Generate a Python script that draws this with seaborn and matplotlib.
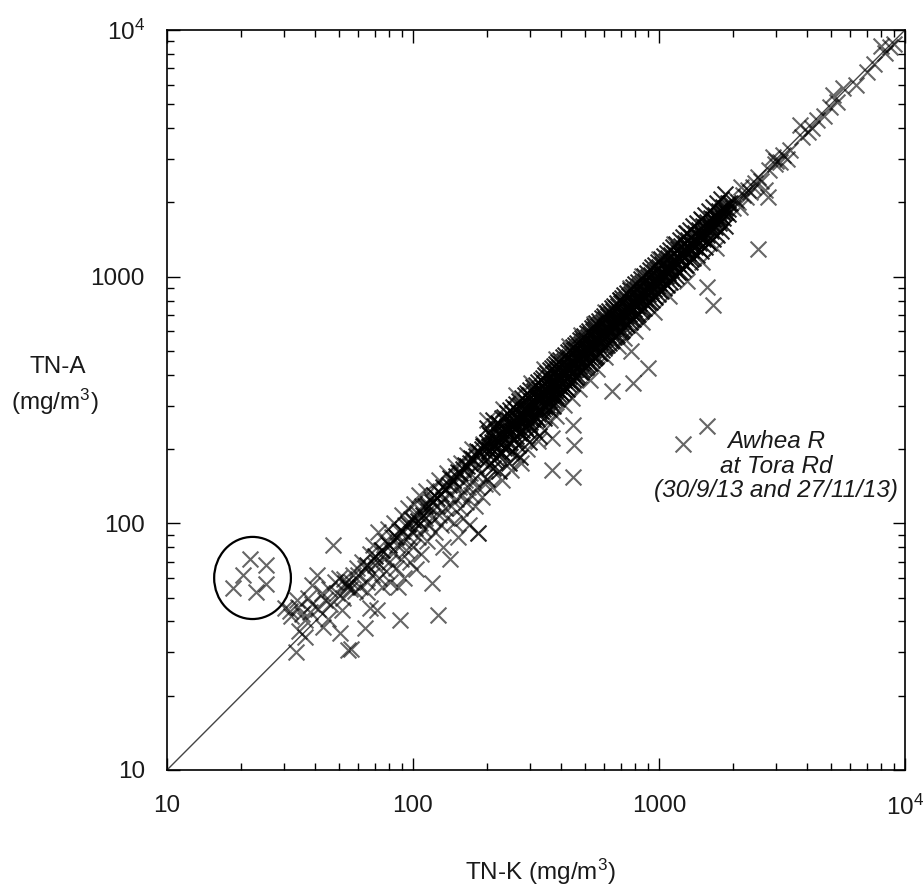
import matplotlib
matplotlib.use("Agg")
import matplotlib.pyplot as plt
import pandas as pd
import seaborn as sns
from matplotlib.patches import Ellipse
from matplotlib.ticker import FixedLocator, FixedFormatter, LogLocator, NullFormatter

# ---------------- data (TN-K, TN-A) in mg/m3 ----------------
tick_vals = [10, 100, 1000, 10000]
tick_labels = ["10", "100", "1000", r"$\mathregular{10^4}$"]

circled = [(21.7, 71.7), (25.3, 67.8), (20.4, 61.7), (25.3, 56.8), (18.5, 54.7), (23.0, 52.7)]

awhea = [(1252, 210), (1567, 248)]

low = [(30.2, 45.4), (33.7, 48.9), (37.4, 49.8), (40.7, 61.6), (47.3, 81.7), (36.4, 34.6),
       (33.4, 30.1), (38, 43.6), (36.4, 40.5), (50.5, 35.9), (54.4, 30.7), (51.5, 44.4),
       (53.9, 55.0), (54.5, 56), (55.5, 54), (53, 57.5), (56, 58), (31.5, 44), (34, 46),
       (35.5, 43), (39, 47), (41, 45), (42.5, 52), (44, 49), (45.5, 54), (46, 47), (48, 58),
       (49, 52), (50, 60), (52, 50), (57, 62), (58, 53), (59, 66), (43, 38), (45, 41),
       (39, 56), (56, 31), (52.5, 59.5), (34.5, 36.5), (32, 42)]

mid = [(60, 62), (61, 55), (62, 70), (63.9, 37.6), (64, 66), (65, 58), (65, 52.7), (66.9, 45.3),
       (67, 75), (68, 62), (68.8, 81.7), (70, 68), (71.3, 69.6), (71.3, 44.5), (72, 92), (73, 60),
       (74, 78), (75, 55), (76, 72), (77, 85), (78, 64), (79, 95), (80, 70), (81, 58), (82, 88),
       (83, 76), (84, 100), (85, 66), (86, 82), (86.8, 55), (88, 93), (88.5, 40.6), (89, 72),
       (90, 108), (91, 85), (92, 60), (93, 98), (94, 78), (95, 115), (96, 88), (97, 70), (98, 104),
       (99, 92), (100, 80), (101, 120), (102, 96), (103, 65), (104, 110), (105, 88), (106, 130),
       (107, 100), (108, 75), (109, 118), (110, 95), (112, 105), (113, 135), (114, 85), (115, 112),
       (116, 98), (118, 125), (119, 57.2), (120, 105), (122, 140), (123, 92), (125, 118),
       (126, 42.5), (127, 108), (128, 150), (130, 98), (132, 125), (133, 80), (135, 115),
       (137, 160), (138, 105), (140, 130), (142, 72), (143, 118), (145, 145), (147, 100),
       (148, 170), (150, 125), (152, 88), (154, 140), (155, 115), (157, 175), (158, 130),
       (160, 105), (162, 150), (164, 122), (165, 190), (167, 140), (169, 98), (170, 160),
       (172, 130), (174, 200), (176, 150), (178, 118), (180, 170), (184, 91), (184, 91),
       (182, 140), (185, 195), (188, 160), (190, 128), (192, 210), (195, 175), (197, 145)]

mid_core = [(105, 102), (110, 108), (115, 118), (120, 122), (125, 127), (130, 132), (135, 138),
            (140, 143), (145, 150), (150, 155), (155, 160), (160, 166), (165, 170), (170, 176),
            (175, 182), (180, 188), (185, 194), (190, 200), (195, 206), (112, 118), (122, 130),
            (132, 140), (142, 152), (152, 162), (162, 172), (172, 184), (182, 196), (192, 206),
            (80, 82), (85, 88), (90, 93), (95, 99), (75, 78), (70, 74), (65, 68), (100, 103)]

band = [(200, 182), (200, 214), (200, 243), (200, 151), (206, 197), (206, 229), (211, 168), (211, 207),
        (211, 262), (218, 201), (218, 236), (218, 184), (224, 214), (224, 252), (224, 163), (231, 192),
        (231, 226), (231, 268), (238, 243), (238, 204), (246, 212), (246, 263), (246, 231), (246, 176),
        (252, 236), (252, 281), (252, 196), (259, 251), (259, 219), (259, 292), (266, 246), (266, 271),
        (266, 207), (273, 262), (273, 234), (273, 302), (273, 186), (281, 256), (281, 287), (281, 229),
        (289, 271), (289, 311), (289, 242), (296, 281), (296, 253), (296, 332), (296, 214), (303, 292),
        (303, 266), (303, 313), (311, 302), (311, 276), (311, 343), (311, 238), (319, 296), (319, 322),
        (319, 264), (326, 312), (326, 286), (326, 351), (326, 226), (334, 321), (334, 299), (334, 357),
        (341, 332), (341, 301), (341, 372), (341, 268), (349, 336), (349, 309), (349, 362), (356, 342),
        (356, 316), (356, 387), (356, 291), (364, 357), (364, 331), (364, 371), (371, 366), (371, 338),
        (371, 402), (371, 299), (379, 372), (379, 346), (379, 412), (386, 381), (386, 352), (386, 423),
        (386, 318), (394, 386), (394, 361), (394, 432), (401, 397), (401, 369), (401, 442), (401, 338),
        (411, 402), (411, 381), (411, 457), (421, 412), (421, 386), (421, 463), (421, 352), (431, 427),
        (431, 394), (431, 472), (441, 432), (441, 406), (441, 492), (441, 371), (451, 446), (451, 417),
        (451, 503), (461, 457), (461, 424), (461, 507), (461, 392), (471, 462), (471, 436), (471, 523),
        (482, 477), (482, 446), (482, 532), (482, 409), (492, 482), (492, 456), (492, 547), (503, 497),
        (503, 466), (503, 553), (503, 432), (514, 507), (514, 477), (514, 572), (526, 522), (526, 491),
        (526, 588), (526, 447), (539, 532), (539, 502), (539, 603), (551, 547), (551, 516), (551, 613),
        (551, 472), (564, 557), (564, 527), (564, 632), (577, 572), (577, 541), (577, 643), (577, 492),
        (592, 587), (592, 552), (592, 658), (606, 602), (606, 566), (606, 673), (606, 522), (621, 612),
        (621, 582), (621, 693), (636, 632), (636, 597), (636, 708), (636, 547), (652, 647), (652, 612),
        (652, 723), (667, 662), (667, 627), (667, 743), (667, 577), (682, 677), (682, 642), (682, 758),
        (702, 692), (702, 657), (702, 783), (702, 602), (717, 712), (717, 672), (717, 793), (732, 727),
        (732, 692), (732, 813), (732, 642), (752, 747), (752, 707), (752, 833), (772, 762), (772, 722),
        (772, 853), (772, 672), (792, 782), (792, 742), (792, 873), (812, 802), (812, 762), (812, 893),
        (812, 702), (832, 822), (832, 782), (832, 913), (853, 842), (853, 802), (853, 943), (853, 742),
        (877, 867), (877, 822), (877, 963), (902, 892), (902, 847), (902, 993), (902, 792), (927, 917),
        (927, 872), (927, 1013), (952, 942), (952, 892), (952, 1043), (952, 832), (977, 967), (977, 917),
        (977, 1073), (1003, 992), (1003, 942), (1003, 1093), (1003, 882), (1032, 1022), (1032, 972),
        (1032, 1123), (1063, 1052), (1063, 1002), (1063, 1153), (1063, 932), (1092, 1082), (1092, 1032),
        (1092, 1193), (1123, 1112), (1123, 1062), (1123, 1223), (1123, 992), (1153, 1142), (1153, 1092),
        (1153, 1253), (1192, 1182), (1192, 1122), (1192, 1293), (1192, 1042), (1232, 1222), (1232, 1162),
        (1232, 1333), (1272, 1262), (1272, 1202), (1272, 1373), (1272, 1112), (1313, 1302), (1313, 1242),
        (1313, 1413), (1352, 1342), (1352, 1282), (1352, 1453), (1352, 1182), (1403, 1392), (1403, 1322),
        (1403, 1503), (1452, 1442), (1452, 1372), (1452, 1553), (1452, 1292), (1503, 1492), (1503, 1422),
        (1503, 1603), (1562, 1552), (1562, 1472), (1562, 1663), (1562, 1392), (1622, 1612), (1622, 1532),
        (1622, 1723), (1683, 1672), (1683, 1592), (1683, 1783), (1752, 1742), (1752, 1652), (1752, 1853),
        (1823, 1812), (1823, 1722), (1823, 1923), (1902, 1882), (1902, 1792), (1902, 1993)]

band_edge = [(203, 172), (203, 205), (203, 233), (214, 180), (214, 222), (214, 248), (221, 190), (221, 214),
             (221, 256), (228, 195), (228, 240), (228, 210), (235, 202), (235, 233), (235, 270), (242, 206),
             (242, 248), (242, 280), (249, 214), (249, 250), (249, 288), (256, 220), (256, 262), (256, 297),
             (263, 226), (263, 258), (263, 305), (270, 232), (270, 276), (270, 312), (277, 240), (277, 272),
             (277, 321), (285, 245), (285, 292), (285, 330), (292, 252), (292, 288), (292, 338), (300, 258),
             (300, 306), (300, 348), (307, 265), (307, 300), (307, 356), (315, 270), (315, 322), (315, 365),
             (322, 278), (322, 316), (322, 373), (330, 285), (330, 338), (330, 382), (337, 290), (337, 332),
             (337, 390), (345, 297), (345, 352), (345, 400), (352, 303), (352, 346), (352, 408), (360, 310),
             (360, 368), (360, 417), (367, 316), (367, 362), (367, 425), (375, 322), (375, 384), (375, 434),
             (382, 329), (382, 375), (382, 442), (390, 336), (390, 398), (390, 452), (397, 342), (397, 392),
             (397, 460), (406, 349), (406, 415), (406, 471), (416, 358), (416, 410), (416, 482), (426, 366),
             (426, 435), (426, 494), (436, 375), (436, 428), (436, 505), (446, 384), (446, 455), (446, 517),
             (456, 392), (456, 448), (456, 528), (466, 401), (466, 476), (466, 540), (476, 410), (476, 468),
             (476, 552), (487, 419), (487, 497), (487, 564), (497, 428), (497, 488), (497, 576), (508, 437),
             (508, 518), (508, 589), (520, 447), (520, 510), (520, 602), (532, 458), (532, 543), (532, 617),
             (545, 469), (545, 535), (545, 632), (557, 479), (557, 568), (557, 646), (570, 490), (570, 560),
             (570, 661), (584, 502), (584, 596), (584, 677), (599, 515), (599, 588), (599, 694), (613, 527),
             (613, 626), (613, 711), (628, 540), (628, 617), (628, 728), (644, 554), (644, 657), (644, 746),
             (659, 567), (659, 648), (659, 764), (675, 580), (675, 688), (675, 782), (692, 595), (692, 680),
             (692, 802), (709, 610), (709, 723), (709, 822), (724, 623), (724, 712), (724, 840), (742, 638),
             (742, 757), (742, 860), (762, 655), (762, 748), (762, 884), (782, 672), (782, 798), (782, 907),
             (802, 690), (802, 788), (802, 930), (822, 707), (822, 838), (822, 953), (842, 724), (842, 828),
             (842, 977), (865, 744), (865, 882), (865, 1003), (890, 765), (890, 875), (890, 1032), (915, 787),
             (915, 933), (915, 1061), (940, 808), (940, 925), (940, 1090), (965, 830), (965, 984), (965, 1119),
             (990, 851), (990, 974), (990, 1148), (1017, 875), (1017, 1037), (1017, 1180), (1047, 900),
             (1047, 1030), (1047, 1215), (1077, 926), (1077, 1098), (1077, 1249), (1107, 952), (1107, 1090),
             (1107, 1284), (1138, 979), (1138, 1161), (1138, 1320), (1172, 1008), (1172, 1153), (1172, 1360),
             (1212, 1042), (1212, 1236), (1212, 1406), (1252, 1077), (1252, 1232), (1252, 1452), (1292, 1111),
             (1292, 1318), (1292, 1499), (1332, 1146), (1332, 1311), (1332, 1545), (1378, 1185), (1378, 1405),
             (1378, 1598), (1428, 1228), (1428, 1405), (1428, 1656), (1478, 1271), (1478, 1508), (1478, 1714),
             (1532, 1318), (1532, 1508), (1532, 1777), (1592, 1369), (1592, 1624), (1592, 1847), (1652, 1421),
             (1652, 1626), (1652, 1916), (1718, 1477), (1718, 1752), (1718, 1993), (1788, 1538), (1788, 1760),
             (1788, 2074), (1862, 1601), (1862, 1900), (1862, 2160)]

band_core = [(204, 199), (209, 214), (216, 211), (223, 228), (229, 224), (236, 240), (243, 237),
             (250, 256), (255, 249), (262, 268), (268, 262), (275, 281), (283, 276), (290, 297),
             (298, 291), (305, 313), (313, 305), (321, 329), (329, 321), (336, 345), (344, 336),
             (352, 361), (359, 351), (368, 377), (376, 367), (384, 393), (392, 383), (400, 410),
             (408, 398), (418, 428), (428, 418), (438, 449), (448, 437), (458, 469), (468, 457),
             (479, 491), (490, 478), (501, 513), (511, 499), (523, 536), (536, 523), (548, 562),
             (561, 548), (574, 588), (588, 574), (603, 618), (617, 602), (632, 648), (648, 632),
             (664, 681), (680, 664), (697, 714), (713, 696), (731, 749), (749, 731), (768, 787),
             (788, 769), (808, 828), (828, 808), (848, 869), (871, 850), (895, 917), (920, 898),
             (945, 969), (970, 947), (996, 1021), (1024, 1000), (1055, 1081), (1085, 1059),
             (1115, 1143), (1145, 1118), (1180, 1210), (1220, 1191), (1260, 1292), (1300, 1269),
             (1340, 1374), (1390, 1357), (1440, 1476), (1490, 1454), (1545, 1584), (1605, 1567),
             (1665, 1707), (1735, 1694), (1805, 1850), (1880, 1835), (1950, 1990)]

spread_below = [(210, 140), (230, 150), (250, 165), (262, 190), (275, 175), (290, 200), (322, 215),
                (342, 240), (362, 262), (382, 272), (412, 302), (442, 322), (473, 352), (522, 382),
                (562, 422), (602, 472), (682, 522), (722, 562), (802, 602), (852, 652), (952, 722),
                (1102, 832), (1302, 962), (1502, 1152), (1702, 1302)]

spread_above = [(200, 262), (232, 292), (262, 332), (302, 372), (342, 422), (382, 462), (432, 522),
                (482, 582), (542, 642), (602, 722), (692, 802), (762, 902), (852, 1002), (1002, 1182),
                (1152, 1352), (1302, 1502), (1502, 1702)]

outliers = [(644, 344), (782, 370), (447, 250), (453, 207), (367, 164), (447, 154), (367, 222),
            (769, 499), (902, 427), (2524, 1295), (1660, 767), (1567, 908)]

high = [(2000, 1900), (2050, 2050), (2131, 1914), (2200, 2150), (2300, 2250), (2400, 2300),
        (2524, 2535), (2600, 2450), (2697, 2244), (2775, 2102), (2800, 2700), (2906, 3055),
        (2950, 2850), (3000, 2950), (3104, 2917), (3200, 3100), (3300, 3000), (3400, 3250),
        (3742, 4121), (3800, 3700), (4036, 3855), (4200, 4000), (4400, 4300), (4700, 4500),
        (4955, 4864), (5093, 5450), (5300, 5100), (5600, 5800), (6300, 6000), (7015, 6745),
        (7500, 7300), (8300, 8053), (8700, 8500), (8000, 8600), (9000, 8800), (2100, 2000),
        (2250, 2100), (2450, 2400), (2150, 2300), (2350, 2200)]

sparse_groups = [circled, awhea, low, mid, spread_below, spread_above, outliers, high]
dense_groups = [mid_core, band, band_edge, band_core]
df_sparse = pd.DataFrame([p for g in sparse_groups for p in g], columns=["TN-K", "TN-A"])
df_dense = pd.DataFrame([p for g in dense_groups for p in g], columns=["TN-K", "TN-A"])

# ---------------- styling ----------------
sns.set_style("ticks")
plt.rcParams["font.family"] = ["Liberation Sans", "DejaVu Sans"]
plt.rcParams["mathtext.fontset"] = "custom"
plt.rcParams["mathtext.rm"] = "Liberation Sans"
plt.rcParams["mathtext.it"] = "Liberation Sans:italic"

TXT = "#1a1a1a"
FS = 17.5

fig = plt.figure(figsize=(9.23, 8.91), dpi=100)
ax = fig.add_axes([167 / 923, 1 - 770 / 891, 738 / 923, 740 / 891])
ax.set_xscale("log")
ax.set_yscale("log")

ax.plot([10, 1e4], [10, 1e4], color="#444444", lw=1.0, zorder=1)
sns.scatterplot(data=df_sparse, x="TN-K", y="TN-A", marker="x", color="black", s=130,
                linewidth=1.5, alpha=0.6, ax=ax, zorder=2, legend=False)
sns.scatterplot(data=df_dense, x="TN-K", y="TN-A", marker="x", color="black", s=130,
                linewidth=1.5, alpha=0.85, ax=ax, zorder=2, legend=False)

ax.set_xlim(10, 1e4)
ax.set_ylim(10, 1e4)
ax.set_xlabel("")
ax.set_ylabel("")

for axis in (ax.xaxis, ax.yaxis):
    axis.set_major_locator(FixedLocator(tick_vals))
    axis.set_major_formatter(FixedFormatter(tick_labels))
    axis.set_minor_locator(LogLocator(base=10, subs=range(2, 10)))
    axis.set_minor_formatter(NullFormatter())

ax.tick_params(which="both", direction="in", top=True, right=True, width=1.0,
               color="black", labelcolor=TXT, labelsize=FS)
ax.tick_params(which="major", length=9)
ax.tick_params(which="minor", length=5)
ax.tick_params(axis="x", which="major", pad=18)
ax.tick_params(axis="y", which="major", pad=16)
for sp in ax.spines.values():
    sp.set_linewidth(1.2)
    sp.set_color("black")
    sp.set_visible(True)

# circle around the low outliers
ax.add_patch(Ellipse((0.1159, 0.2595), 0.104, 0.111, transform=ax.transAxes,
                     fill=False, ec="black", lw=1.6, zorder=3))

# annotation
ax.text(0.825, 0.4108, "Awhea R\nat Tora Rd\n(30/9/13 and 27/11/13)", transform=ax.transAxes,
        ha="center", va="center", style="italic", fontsize=FS, color=TXT,
        linespacing=1.1, multialignment="center")

# axis labels
fig.text(58 / 923, 1 - 367 / 891, "TN-A", ha="center", va="center", fontsize=FS, color=TXT)
fig.text(55 / 923, 1 - 402 / 891, r"(mg/m$^3$)", ha="center", va="center", fontsize=FS, color=TXT)
fig.text(540 / 923, 1 - 872 / 891, r"TN-K (mg/m$^3$)", ha="center", va="center", fontsize=FS, color=TXT)

fig.savefig("out.png", dpi=100)
